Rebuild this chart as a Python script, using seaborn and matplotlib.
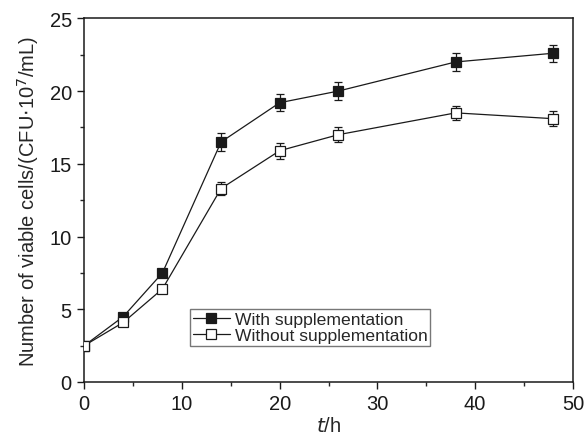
import pandas as pd
import seaborn as sns
import matplotlib.pyplot as plt
from matplotlib.ticker import MultipleLocator

# Veri
t = [0, 4, 8, 14, 20, 26, 38, 48]
with_supp = [2.5, 4.5, 7.5, 16.5, 19.2, 20.0, 22.0, 22.6]
with_err = [0.2, 0.2, 0.25, 0.6, 0.6, 0.6, 0.6, 0.6]
without_supp = [2.5, 4.1, 6.4, 13.3, 15.9, 17.0, 18.5, 18.1]
without_err = [0.2, 0.2, 0.2, 0.45, 0.55, 0.5, 0.5, 0.5]
labels = ['With supplementation', 'Without supplementation']

sns.set_style('ticks')
plt.rcParams['font.family'] = ['Liberation Sans', 'DejaVu Sans']

df = pd.DataFrame({
    't': t + t,
    'value': with_supp + without_supp,
    'err': with_err + without_err,
    'group': [labels[0]] * len(t) + [labels[1]] * len(t),
})

fig = plt.figure(figsize=(5.84, 4.39), dpi=100)
ax = fig.add_axes([0.1443, 0.1276, 0.8367, 0.8284])

# Hata çubukları
for lab in labels:
    d = df[df['group'] == lab]
    ax.errorbar(d['t'], d['value'], yerr=d['err'], fmt='none',
                ecolor='#1a1a1a', elinewidth=0.9, capsize=3, capthick=0.9,
                zorder=2)

sns.lineplot(data=df, x='t', y='value', hue='group', style='group',
             palette=['#1a1a1a', '#1a1a1a'], markers=['s', 's'], dashes=False,
             linewidth=0.9, markersize=6.5, ax=ax, legend=False, zorder=3)

# Boş kareler için marker rengi
lines = ax.get_lines()[-2:]
lines[0].set_markerfacecolor('#1a1a1a')
lines[0].set_markeredgecolor('#1a1a1a')
lines[1].set_markerfacecolor('white')
lines[1].set_markeredgecolor('#1a1a1a')
for ln in lines:
    ln.set_markeredgewidth(0.9)

ax.set_xlim(0, 50)
ax.set_ylim(0, 25)
ax.xaxis.set_major_locator(MultipleLocator(10))
ax.xaxis.set_minor_locator(MultipleLocator(5))
ax.yaxis.set_major_locator(MultipleLocator(5))
ax.yaxis.set_minor_locator(MultipleLocator(2.5))
ax.tick_params(which='major', direction='out', length=5, width=1,
               labelsize=14.5, colors='#1a1a1a', pad=4)
ax.tick_params(which='minor', direction='out', length=3, width=1)
for s in ax.spines.values():
    s.set_linewidth(1.1)
    s.set_color('#1a1a1a')
    s.set_visible(True)

ax.set_xlabel('$\\it{t}$/h', fontsize=14.5, labelpad=2)
ax.set_ylabel('Number of viable cells/(CFU$\\cdot$10$^7$/mL)', fontsize=14.5,
              labelpad=6)

leg = ax.legend(lines, labels, loc='lower left',
                bbox_to_anchor=(0.217, 0.099), fontsize=12.6, frameon=True,
                fancybox=False, edgecolor='#555555', handlelength=2.1,
                handletextpad=0.3, borderpad=0.15, labelspacing=0.05,
                borderaxespad=0)
leg.get_frame().set_linewidth(1)

fig.savefig('out.png', dpi=100)
